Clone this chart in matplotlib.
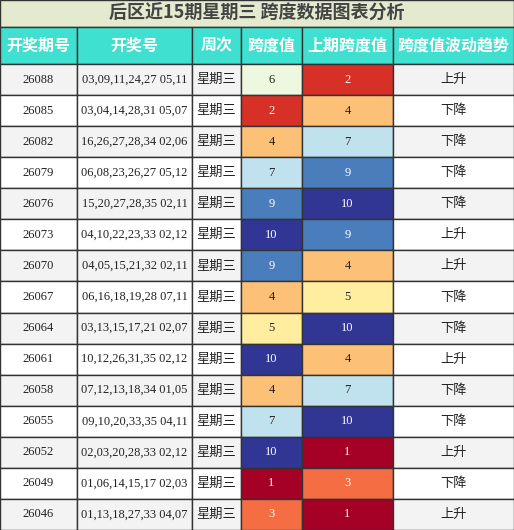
import matplotlib.pyplot as plt
from matplotlib.patches import Rectangle

title = "后区近15期星期三 跨度数据图表分析"
headers = ["开奖期号", "开奖号", "周次", "跨度值", "上期跨度值", "跨度值波动趋势"]
issues = ["26088", "26085", "26082", "26079", "26076", "26073", "26070", "26067",
          "26064", "26061", "26058", "26055", "26052", "26049", "26046"]
draws = ["03,09,11,24,27 05,11", "03,04,14,28,31 05,07", "16,26,27,28,34 02,06",
         "06,08,23,26,27 05,12", "15,20,27,28,35 02,11", "04,10,22,23,33 02,12",
         "04,05,15,21,32 02,11", "06,16,18,19,28 07,11", "03,13,15,17,21 02,07",
         "10,12,26,31,35 02,12", "07,12,13,18,34 01,05", "09,10,20,33,35 04,11",
         "02,03,20,28,33 02,12", "01,06,14,15,17 02,03", "01,13,18,27,33 04,07"]
spans = [6, 2, 4, 7, 9, 10, 9, 4, 5, 10, 4, 7, 10, 1, 3]
prev_spans = [2, 4, 7, 9, 10, 9, 4, 5, 10, 4, 7, 10, 1, 3, 1]
trends = ["上升", "下降", "下降", "下降", "下降", "上升", "上升", "下降", "下降",
          "上升", "下降", "下降", "上升", "下降", "上升"]

span_colors = {1: "#a50026", 2: "#d73027", 3: "#f46d43", 4: "#fdc077", 5: "#ffeda0",
               6: "#eef7e0", 7: "#c0e2ee", 9: "#4a7dbb", 10: "#313695"}
dark = {1, 2, 3, 9, 10}

W, H = 514, 530
cols = [0, 77, 192, 241, 302, 393, 514]
title_h, head_h = 27, 37
row_h = (H - title_h - head_h) / len(issues)
CJK = ["Noto Sans CJK SC", "DejaVu Sans"]
SERIF = ["Liberation Serif", "DejaVu Serif"]

fig = plt.figure(figsize=(W / 100, H / 100), dpi=100)
ax = fig.add_axes([0, 0, 1, 1])
ax.set_xlim(0, W)
ax.set_ylim(H, 0)
ax.axis("off")

ax.add_patch(Rectangle((0, 0), W, title_h, facecolor="#e3ead0", edgecolor="#333", lw=1))
ax.text(W / 2, title_h / 2, title, ha="center", va="center", fontsize=13,
        fontweight="bold", color="#444", family=CJK)

for i, h in enumerate(headers):
    x0, x1 = cols[i], cols[i + 1]
    ax.add_patch(Rectangle((x0, title_h), x1 - x0, head_h, facecolor="#40e0d0",
                           edgecolor="#333", lw=1))
    ax.text((x0 + x1) / 2, title_h + head_h / 2, h, ha="center", va="center",
            fontsize=11.5, fontweight="bold", color="white", family=CJK)

for r in range(len(issues)):
    y = title_h + head_h + r * row_h
    bg = "#f3f3f3" if r % 2 == 0 else "white"
    vals = [issues[r], draws[r], "星期三", str(spans[r]), str(prev_spans[r]), trends[r]]
    for c, v in enumerate(vals):
        x0, x1 = cols[c], cols[c + 1]
        fc, tc = bg, "#222"
        if c == 3:
            fc = span_colors[spans[r]]
            tc = "white" if spans[r] in dark else "#222"
        elif c == 4:
            fc = span_colors[prev_spans[r]]
            tc = "white" if prev_spans[r] in dark else "#222"
        ax.add_patch(Rectangle((x0, y), x1 - x0, row_h, facecolor=fc,
                               edgecolor="#333", lw=1))
        fam = CJK if c in (2, 5) else SERIF
        size = 9.5 if c in (2, 5) else 9
        ax.text((x0 + x1) / 2, y + row_h / 2, v, ha="center", va="center",
                fontsize=size, color=tc, family=fam)

fig.savefig("out.png", dpi=100)
